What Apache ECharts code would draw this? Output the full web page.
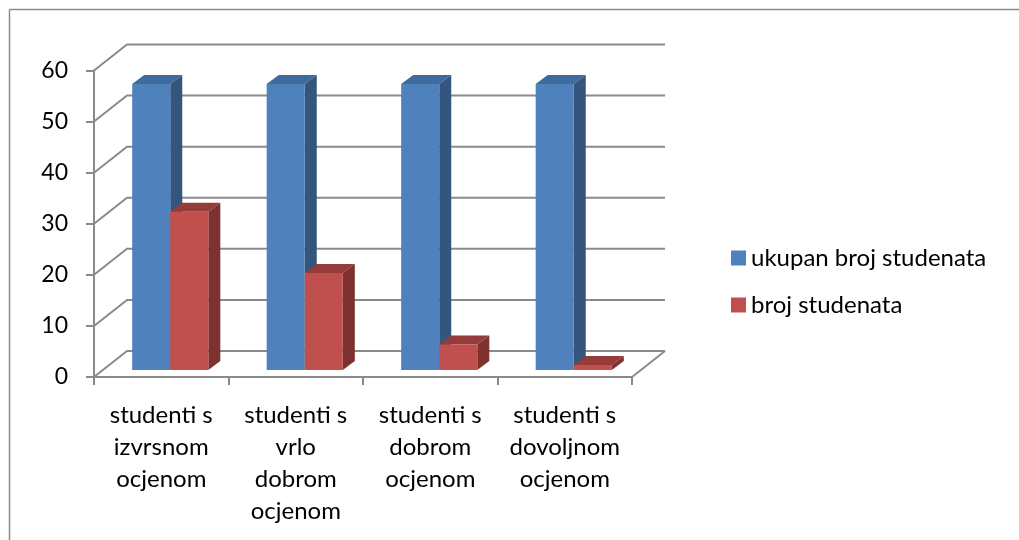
<!DOCTYPE html>
<html>
<head>
<meta charset="utf-8">
<title>studenti</title>
<script src="https://cdn.jsdelivr.net/npm/echarts@6/dist/echarts.min.js"></script>
<style>
    html, body { margin: 0; padding: 0; background: #fff; }
    #chartId { width: 1019px; height: 540px; }
</style>
</head>
<body>
<div id="chartId"></div>
<script>
    // data
    const categories = [
        'studenti s\nizvrsnom\nocjenom',
        'studenti s\nvrlo\ndobrom\nocjenom',
        'studenti s\ndobrom\nocjenom',
        'studenti s\ndovoljnom\nocjenom'
    ]
    const seriesNames = ['ukupan broj studenata', 'broj studenata']
    const totalStudents = [56, 56, 56, 56]
    const gradedStudents = [31, 19, 5, 1]
    const yTicks = [0, 10, 20, 30, 40, 50, 60]

    const fontFamily = 'Lato, "Noto Sans", sans-serif'
    const gridColor = '#8a8a8a'

    // oblique 3d offsets in px
    const wallDx = 33, wallDy = -26
    const barDx = 9, barDy = -7
    const depthDx = 12, depthDy = -9
    const barFrac = 0.283

    const faces = [
        { front: '#4F81BD', top: '#3E6A9C', side: '#34557E' },
        { front: '#C0504D', top: '#953B39', side: '#7D3230' }
    ]

    function wallItem(params, api) {
        const cs = params.coordSys
        const y = api.coord([0, api.value(1)])[1]
        const x0 = cs.x, x1 = cs.x + cs.width
        const children = [{
            type: 'polyline',
            shape: { points: [[x0, y], [x0 + wallDx, y + wallDy], [x1 + wallDx, y + wallDy]] },
            style: { stroke: gridColor, lineWidth: 2, fill: null }
        }]
        if (api.value(1) === 0) {
            children.push({
                type: 'line',
                shape: { x1: x1, y1: y, x2: x1 + wallDx, y2: y + wallDy },
                style: { stroke: gridColor, lineWidth: 2 }
            })
        }
        return { type: 'group', children: children }
    }

    function barItem(idx) {
        return function (params, api) {
            const c = faces[idx]
            const top = api.coord([api.value(0), api.value(1)])
            const base = api.coord([api.value(0), 0])
            const bw = api.size([1, 0])[0] * barFrac
            const xl = top[0] + barDx + (idx === 0 ? -bw : 0)
            const xr = xl + bw
            const yt = top[1] + barDy
            const yb = base[1] + barDy
            return {
                type: 'group',
                children: [
                    {
                        type: 'polygon',
                        shape: { points: [[xr, yt], [xr + depthDx, yt + depthDy], [xr + depthDx, yb + depthDy], [xr, yb]] },
                        style: { fill: c.side }
                    },
                    {
                        type: 'polygon',
                        shape: { points: [[xl, yt], [xl + depthDx, yt + depthDy], [xr + depthDx, yt + depthDy], [xr, yt]] },
                        style: { fill: c.top }
                    },
                    {
                        type: 'rect',
                        shape: { x: xl, y: yt, width: bw, height: yb - yt },
                        style: { fill: c.front }
                    }
                ]
            }
        }
    }

    const myChart = echarts.init(document.getElementById('chartId'))

    const option = {
        animation: false,
        textStyle: { fontFamily: fontFamily },
        grid: {
            left: 94,
            right: 387,
            top: 70.5,
            bottom: 163
        },
        legend: {
            orient: 'vertical',
            left: 726,
            top: 240,
            icon: 'rect',
            itemWidth: 15,
            itemHeight: 15,
            itemGap: 21,
            data: seriesNames,
            textStyle: { fontSize: 24, color: '#000', fontFamily: fontFamily, lineHeight: 26 }
        },
        xAxis: {
            type: 'category',
            data: categories,
            axisLine: { lineStyle: { color: gridColor, width: 2 } },
            axisTick: { show: true, length: 8, lineStyle: { color: gridColor, width: 2 } },
            axisLabel: {
                interval: 0,
                margin: 22,
                fontSize: 24,
                lineHeight: 32,
                color: '#000',
                fontFamily: fontFamily
            }
        },
        yAxis: {
            type: 'value',
            min: 0,
            max: 60,
            interval: 10,
            axisLine: { show: true, lineStyle: { color: gridColor, width: 2 } },
            axisTick: { show: true, length: 8, lineStyle: { color: gridColor, width: 2 } },
            axisLabel: { margin: 26, fontSize: 23, color: '#000', fontFamily: fontFamily },
            splitLine: { show: false }
        },
        graphic: [
            { type: 'line', shape: { x1: 9.5, y1: 9.5, x2: 1019, y2: 9.5 }, style: { stroke: '#8c8c8c', lineWidth: 1.5 } },
            { type: 'line', shape: { x1: 9.5, y1: 9.5, x2: 9.5, y2: 540 }, style: { stroke: '#8c8c8c', lineWidth: 1.5 } }
        ],
        series: [
            {
                name: 'walls',
                type: 'custom',
                renderItem: wallItem,
                data: yTicks.map(v => [0, v]),
                encode: { x: 0, y: 1 },
                silent: true,
                z: 1
            },
            {
                name: seriesNames[0],
                type: 'custom',
                renderItem: barItem(0),
                itemStyle: { color: faces[0].front },
                data: totalStudents.map((v, i) => [i, v]),
                encode: { x: 0, y: 1 },
                z: 2
            },
            {
                name: seriesNames[1],
                type: 'custom',
                renderItem: barItem(1),
                itemStyle: { color: faces[1].front },
                data: gradedStudents.map((v, i) => [i, v]),
                encode: { x: 0, y: 1 },
                z: 3
            }
        ]
    }

    myChart.setOption(option)
    window.addEventListener('resize', () => myChart.resize(), false)
</script>
</body>
</html>
